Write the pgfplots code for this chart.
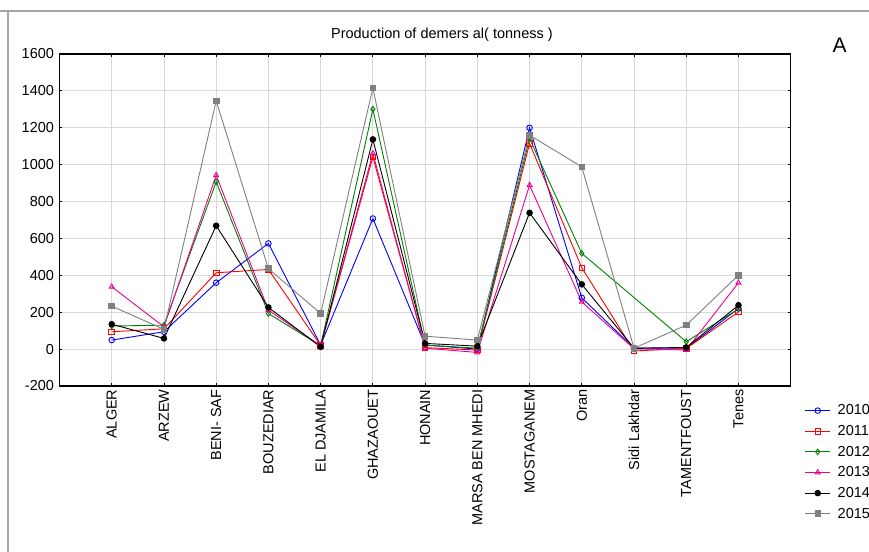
\documentclass[border=0pt]{standalone}
\usepackage{pgfplots}
\pgfplotsset{compat=1.18}
\usepackage{fontspec}
\setmainfont{Liberation Sans}
\definecolor{cgreen}{RGB}{0,128,0}
\definecolor{cgray}{RGB}{128,128,128}
\begin{document}
\begin{tikzpicture}
\begin{axis}[
  scale only axis, width=731.2pt, height=332pt,
  xmin=-1, xmax=13, ymin=-200, ymax=1600,
  xtick={0,...,12},
  xticklabels={ALGER,ARZEW,BENI- SAF,BOUZEDIAR,EL DJAMILA,GHAZAOUET,HONAIN,MARSA BEN MHEDI,MOSTAGANEM,Oran,Sidi Lakhdar,TAMENTFOUST,Tenes},
  xticklabel style={rotate=90, anchor=east, font=\fontsize{14.5}{16}\selectfont},
  ytick={-200,0,200,400,600,800,1000,1200,1400,1600},
  yticklabel style={font=\fontsize{14.5}{16}\selectfont, xshift=-2pt},
  /pgf/number format/assume math mode=true,
  /pgf/number format/1000 sep={},
  grid=major, major grid style={black!15, line width=0.9pt},
  tick align=inside, major tick length=3pt,
  axis line style={line width=1.1pt},
  every tick/.style={black, line width=0.8pt},
  title={Production of demers al( tonness )},
  title style={at={(0.523,1)}, anchor=base, yshift=9pt, font=\fontsize{14.5}{16}\selectfont},
  clip=false,
  legend style={at={(1.019,-0.05)}, anchor=north west, draw=none, fill=none,
    font=\fontsize{14.5}{16}\selectfont, row sep=5pt, inner sep=0pt},
  legend cell align=left,
  legend image code/.code={\draw[mark repeat=2,mark phase=2] plot coordinates {(0pt,0pt) (12.5pt,0pt) (25pt,0pt)};},
  every axis plot/.append style={line width=0.9pt, mark size=2.8pt},
]
\addplot[blue, mark=o, mark options={fill=white}] coordinates {(0,49) (1,94) (2,360) (3,573) (4,22) (5,708) (6,22) (7,0) (8,1200) (9,278) (10,5) (11,5) (12,220)};
\addlegendentry{\hspace{5pt}2010}
\addplot[red, mark=square, mark options={fill=white}] coordinates {(0,94) (1,110) (2,414) (3,432) (4,20) (5,1042) (6,8) (7,-5) (8,1115) (9,441) (10,-10) (11,3) (12,202)};
\addlegendentry{\hspace{5pt}2011}
\addplot[cgreen, mark=diamond, mark options={fill=white}] coordinates {(0,125) (1,130) (2,907) (3,193) (4,18) (5,1301) (6,22) (7,5) (8,1142) (9,519) (10,nan) (11,40) (12,218)};
\addlegendentry{\hspace{5pt}2012}
\addplot[magenta, mark=triangle, mark options={fill=white}] coordinates {(0,338) (1,121) (2,943) (3,211) (4,18) (5,1061) (6,5) (7,-18) (8,889) (9,256) (10,2) (11,-5) (12,360)};
\addlegendentry{\hspace{5pt}2013}
\addplot[black, mark=*] coordinates {(0,135) (1,58) (2,669) (3,226) (4,12) (5,1137) (6,31) (7,16) (8,739) (9,351) (10,5) (11,9) (12,238)};
\addlegendentry{\hspace{5pt}2014}
\addplot[cgray, mark=square*] coordinates {(0,233) (1,107) (2,1346) (3,436) (4,193) (5,1416) (6,70) (7,49) (8,1160) (9,988) (10,5) (11,130) (12,401)};
\addlegendentry{\hspace{5pt}2015}
\node[font=\fontsize{21}{24}\selectfont] at (rel axis cs:1.067,1.027) {A};
\draw[black!35, line width=1.5pt] (rel axis cs:-0.0814,1.1295) -- (rel axis cs:1.107,1.1295);
\draw[black!35, line width=1.5pt] (rel axis cs:-0.0704,1.1295) -- (rel axis cs:-0.0704,-0.5);
\end{axis}
\pgfresetboundingbox
\path[use as bounding box] ([shift={(-59.5pt,-165pt)}]current axis.south west) rectangle ++(869pt,551pt);
\end{tikzpicture}
\end{document}
